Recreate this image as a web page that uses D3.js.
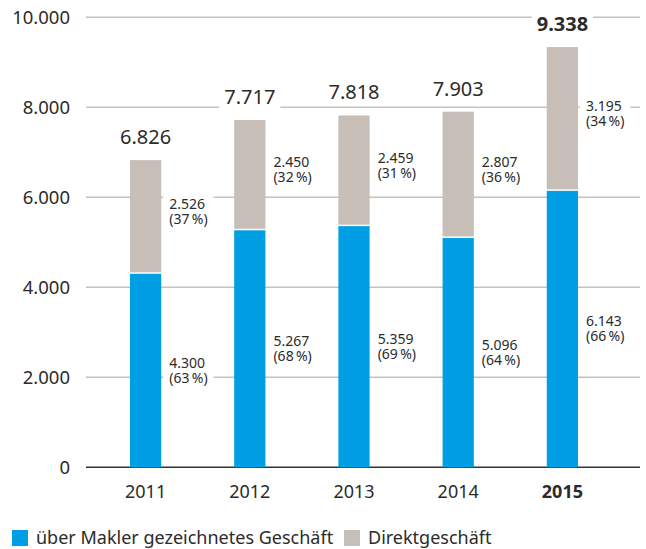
<!DOCTYPE html>
<html>
<head>
<meta charset="utf-8">
<script src="https://cdn.jsdelivr.net/npm/d3@7"></script>
<style>
  body { margin: 0; background: #fff; }
  svg { font-family: "Noto Sans", sans-serif; }
</style>
</head>
<body>
<svg width="646" height="549"></svg>
<script>
var years = ["2011", "2012", "2013", "2014", "2015"];
var makler = [4300, 5267, 5359, 5096, 6143];
var direkt = [2526, 2450, 2459, 2807, 3195];
var maklerPct = [63, 68, 69, 64, 66];
var direktPct = [37, 32, 31, 36, 34];
var totals = [6826, 7717, 7818, 7903, 9338];
var yTicks = [0, 2000, 4000, 6000, 8000, 10000];
var legendLabels = ["über Makler gezeichnetes Geschäft", "Direktgeschäft"];

var blue = "#009fe3", grey = "#c6beb7", gridCol = "#c9c1ba", textCol = "#2b2b2b";

var svg = d3.select("svg");
var de = d3.formatLocale({decimal: ",", thousands: ".", grouping: [3], currency: ["", " €"]});
var fmt = de.format(",");

var x = d3.scaleBand()
    .domain(years)
    .range([93.5, 614.5])
    .paddingInner(0.7)
    .paddingOuter(0.35);

var y = d3.scaleLinear()
    .domain([0, 10000])
    .range([467.3, 17.3]);

/*gridlines*/
svg.append("g").selectAll("line")
  .data(yTicks)
  .enter().append("line")
    .attr("x1", 86).attr("x2", 640)
    .attr("y1", function(d) { return y(d); })
    .attr("y2", function(d) { return y(d); })
    .attr("stroke", function(d) { return d === 0 ? "#333" : gridCol; })
    .attr("stroke-width", 1.4);

svg.append("g").selectAll("text")
  .data(yTicks)
  .enter().append("text")
    .attr("x", 70)
    .attr("y", function(d) { return y(d); })
    .attr("dy", "0.36em")
    .attr("text-anchor", "end")
    .attr("font-size", 18.5)
    .attr("fill", textCol)
    .text(function(d) { return fmt(d); });

var rows = years.map(function(yr, i) {
  return {year: yr, m: makler[i], d: direkt[i], mp: maklerPct[i], dp: direktPct[i], t: totals[i], bold: i === years.length - 1};
});

var bars = svg.append("g").selectAll("g")
  .data(rows)
  .enter().append("g");

bars.append("rect")
    .attr("x", function(d) { return x(d.year); })
    .attr("width", x.bandwidth())
    .attr("y", function(d) { return y(d.m); })
    .attr("height", function(d) { return y(0) - y(d.m); })
    .attr("fill", blue);

bars.append("rect")
    .attr("x", function(d) { return x(d.year); })
    .attr("width", x.bandwidth())
    .attr("y", function(d) { return y(d.m + d.d); })
    .attr("height", function(d) { return y(d.m) - y(d.m + d.d) - 1.5; })
    .attr("fill", grey);

/*segment labels with white box behind*/
function segLabel(g, d, val, pct, lo, hi, shift) {
  var mid = (y(lo) + y(hi)) / 2 + shift;
  var xx = x(d.year) + x.bandwidth() + 8;
  var lbl = g.append("g");
  var bgRect = lbl.append("rect").attr("fill", "#fff");
  var t = lbl.append("text")
      .attr("font-size", 14)
      .attr("fill", textCol);
  t.append("tspan").attr("x", xx).attr("y", mid).text(fmt(val));
  t.append("tspan").attr("x", xx).attr("y", mid + 15).text("(" + pct + "\u202F%)");
  var bb = t.node().getBBox();
  bgRect.attr("x", bb.x - 6).attr("y", bb.y - 2)
      .attr("width", bb.width + 12).attr("height", bb.height + 4);
}

bars.each(function(d) {
  var g = d3.select(this);
  segLabel(g, d, d.m, d.mp, 0, d.m, -3);
  segLabel(g, d, d.d, d.dp, d.m, d.m + d.d, -8);

  /*total above bar*/
  var tg = g.append("g");
  var bg = tg.append("rect").attr("fill", "#fff");
  var t = tg.append("text")
      .attr("x", x(d.year) + x.bandwidth() / 2)
      .attr("y", y(d.t) - 16)
      .attr("text-anchor", "middle")
      .attr("font-size", 20)
      .attr("font-weight", d.bold ? "bold" : "normal")
      .attr("fill", textCol)
      .text(fmt(d.t));
  var bb = t.node().getBBox();
  bg.attr("x", bb.x - 5).attr("y", bb.y)
      .attr("width", bb.width + 10).attr("height", bb.height);
});

bars.append("text")
    .attr("x", function(d) { return x(d.year) + x.bandwidth() / 2; })
    .attr("y", 498)
    .attr("text-anchor", "middle")
    .attr("font-size", 18)
    .attr("font-weight", function(d) { return d.bold ? "bold" : "normal"; })
    .attr("fill", textCol)
    .text(function(d) { return d.year; });

/*legend*/
var legX = [12, 344];
var leg = svg.append("g").selectAll("g")
  .data(legendLabels)
  .enter().append("g")
    .attr("transform", function(d, i) { return "translate(" + legX[i] + ",530)"; });
leg.append("rect")
    .attr("width", 16).attr("height", 16)
    .attr("fill", function(d, i) { return i === 0 ? blue : grey; });
leg.append("text")
    .attr("x", 24).attr("y", 14)
    .attr("font-size", 18)
    .attr("fill", textCol)
    .text(function(d) { return d; });
</script>
</body>
</html>
